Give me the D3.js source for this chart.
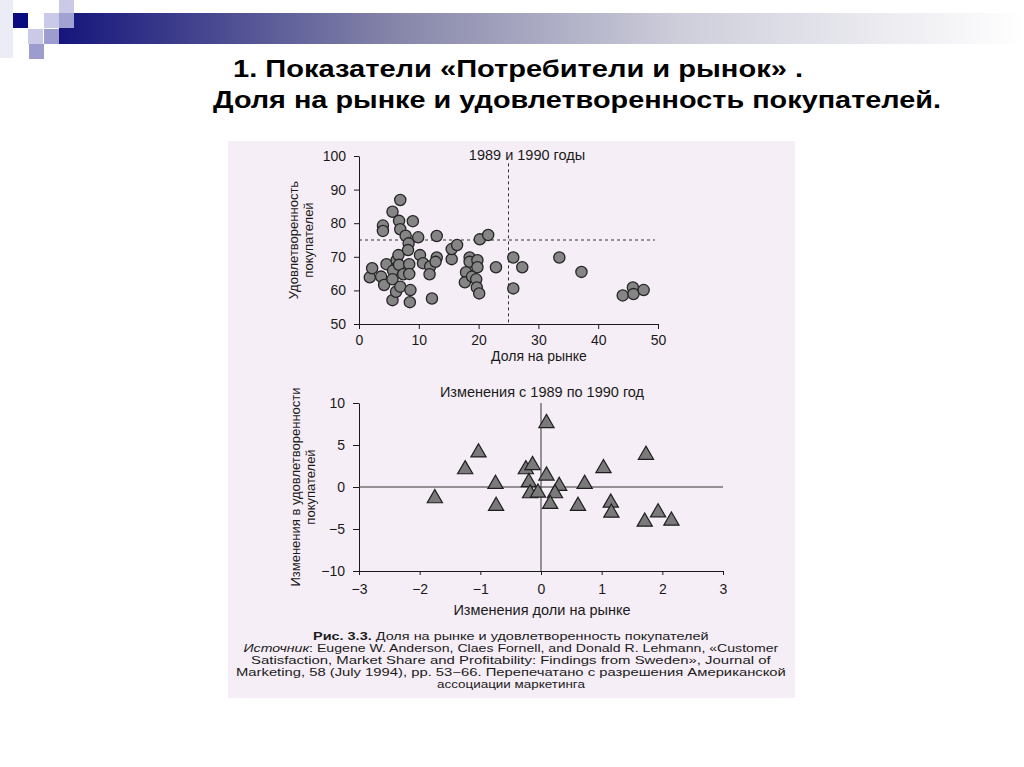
<!DOCTYPE html>
<html>
<head>
<meta charset="utf-8">
<script src="https://cdn.jsdelivr.net/npm/d3@7"></script>
<style>
  body { margin: 0; background: #fff; }
  svg { display: block; }
  .tick text { font-family: "Liberation Sans", Arial, sans-serif; font-size: 14px; fill: #1a1a1a; }
  .domain, .tick line { stroke: #1a1a1a; }
</style>
</head>
<body>
<div class="svg-container"></div>
<script>
// top panel: market share (%) vs customer satisfaction, 1989 and 1990
const shareLevel = [1.8, 2.2, 3.7, 4.2, 4.0, 4.0, 4.6, 5.6, 5.7, 5.6, 5.6, 6.2, 6.3, 6.6, 6.9, 6.7,
  6.9, 6.7, 6.9, 7.4, 7.8, 8.3, 8.2, 8.4, 8.4, 8.6, 8.5, 9.0, 9.9, 10.2, 10.7, 11.9, 11.8, 12.2,
  13.0, 13.0, 12.8, 15.5, 15.5, 16.4, 17.9, 17.7, 18.5, 18.5, 18.9, 19.6, 19.8, 19.8, 19.7, 20.1,
  20.2, 21.6, 22.9, 25.8, 27.3, 25.8, 33.5, 37.2, 44.1, 45.8, 45.9, 47.6];
const satisfactionLevel = [63.9, 66.6, 64.1, 61.6, 79.3, 77.7, 67.8, 83.4, 65.9, 63.3, 57.1, 59.6,
  69.0, 70.5, 86.9, 80.7, 78.2, 67.6, 61.1, 64.8, 76.3, 74.0, 72.0, 67.8, 64.9, 60.1, 56.5, 80.6,
  75.8, 70.5, 68.1, 67.1, 64.8, 57.6, 76.2, 69.8, 68.5, 69.3, 72.3, 73.5, 65.4, 62.4, 69.8, 68.5,
  64.1, 63.3, 69.0, 66.9, 60.9, 59.1, 75.2, 76.5, 66.9, 69.8, 66.9, 60.6, 69.8, 65.5, 58.5, 60.9,
  58.9, 60.1];

// bottom panel: change from 1989 to 1990
const shareChange = [-1.75, -1.25, -1.03, -0.75, -0.74, -0.25, -0.14, -0.2, -0.18, -0.05, 0.09,
  0.09, 0.30, 0.23, 0.15, 0.61, 0.72, 1.03, 1.15, 1.16, 1.73, 1.71, 1.93, 2.15];
const satisfactionChange = [-1.35, 2.1, 4.1, 0.36, -2.27, 2.1, 2.6, 0.56, -0.76, -0.68, 7.6, 1.35,
  0.12, -0.76, -2.03, -2.27, 0.36, 2.23, -1.87, -3.07, 3.82, -4.14, -3.03, -4.02];

const topXTicks = [0, 10, 20, 30, 40, 50];
const topYTicks = [50, 60, 70, 80, 90, 100];
const botXTicks = [-3, -2, -1, 0, 1, 2, 3];
const botYTicks = [-10, -5, 0, 5, 10];

const captionLines = [
  [["Рис. 3.3.", "bold"], [" Доля на рынке и удовлетворенность покупателей", ""]],
  [["Источник", "italic"], [": Eugene W. Anderson, Claes Fornell, and Donald R. Lehmann, «Customer", ""]],
  [["Satisfaction, Market Share and Profitability: Findings from Sweden», Journal of", ""]],
  [["Marketing, 58 (July 1994), pp. 53−66. Перепечатано с разрешения Американской", ""]],
  [["ассоциации маркетинга", ""]]
];
const captionWidths = [396, 535, 520, 550, 148];

const svg = d3.select("div.svg-container")
  .append("svg")
  .attr("width", 1024)
  .attr("height", 767)
  .style("background-color", "#fff");

// slide decoration: gradient bar and squares
const grad = svg.append("defs").append("linearGradient")
  .attr("id", "bar").attr("x1", "0%").attr("x2", "100%");
grad.append("stop").attr("offset", "0%").attr("stop-color", "#15157c");
grad.append("stop").attr("offset", "35%").attr("stop-color", "#8686aa");
grad.append("stop").attr("offset", "65%").attr("stop-color", "#cfcfdc");
grad.append("stop").attr("offset", "100%").attr("stop-color", "#ffffff");

svg.append("rect").attr("x", 0).attr("y", 0).attr("width", 13).attr("height", 58).attr("fill", "#ececf6");
svg.append("rect").attr("x", 59).attr("y", 13).attr("width", 965).attr("height", 31).attr("fill", "url(#bar)");
const squares = [
  [13, 13, "#0b0b80"], [28, 29, "#cacae6"], [29, 44, "#9c9cce"],
  [44, 13, "#cacae8"], [44, 29, "#9c9cce"], [59, 0, "#cacae6"], [59, 13, "#a2a2d2"]
];
svg.append("g").selectAll("rect").data(squares).join("rect")
  .attr("x", d => d[0]).attr("y", d => d[1])
  .attr("width", 15).attr("height", 15)
  .attr("fill", d => d[2]);

// slide title (the scan is stretched sideways, so the lines are fitted to their width)
const title = svg.append("g")
  .attr("font-family", "'Liberation Sans', Arial, sans-serif")
  .attr("font-weight", "bold")
  .attr("font-size", 24)
  .attr("fill", "#000");
title.append("text").attr("x", 233).attr("y", 77)
  .attr("textLength", 570).attr("lengthAdjust", "spacingAndGlyphs")
  .text("1. Показатели «Потребители и рынок» .");
title.append("text").attr("x", 213).attr("y", 108)
  .attr("textLength", 728).attr("lengthAdjust", "spacingAndGlyphs")
  .text("Доля на рынке и удовлетворенность покупателей.");

// scanned figure background
svg.append("rect")
  .attr("x", 228).attr("y", 141).attr("width", 567).attr("height", 557)
  .attr("fill", "#f6eef6");

const font = "'Liberation Sans', Arial, sans-serif";

// ---------- top panel ----------
const x1 = d3.scaleLinear().domain([0, 50]).range([359, 658]);
const y1 = d3.scaleLinear().domain([50, 100]).range([324, 156]);

const upper = svg.append("g");
upper.append("g")
  .attr("transform", `translate(0,${y1(50)})`)
  .call(d3.axisBottom(x1).tickValues(topXTicks).tickSize(5).tickSizeOuter(0).tickPadding(6));
upper.append("g")
  .attr("transform", `translate(${x1(0)},0)`)
  .call(d3.axisLeft(y1).tickValues(topYTicks).tickSize(5).tickSizeOuter(0).tickPadding(8));

upper.append("line")
  .attr("x1", x1(25)).attr("x2", x1(25)).attr("y1", y1(97.8)).attr("y2", y1(50))
  .attr("stroke", "#333").attr("stroke-dasharray", "3,3");
upper.append("line")
  .attr("x1", x1(0)).attr("x2", x1(49.5)).attr("y1", y1(75)).attr("y2", y1(75))
  .attr("stroke", "#333").attr("stroke-dasharray", "3,3");

upper.append("g").selectAll("circle")
  .data(shareLevel.map((s, i) => ({ s, v: satisfactionLevel[i] })))
  .join("circle")
  .attr("cx", d => x1(d.s))
  .attr("cy", d => y1(d.v))
  .attr("r", 5.6)
  .attr("fill", "#858585")
  .attr("stroke", "#262626")
  .attr("stroke-width", 1.3);

upper.append("text")
  .attr("x", 527).attr("y", 160)
  .attr("text-anchor", "middle")
  .attr("font-family", font).attr("font-size", 14.5).attr("fill", "#1a1a1a")
  .text("1989 и 1990 годы");
upper.append("text")
  .attr("x", 539).attr("y", 360.5)
  .attr("text-anchor", "middle")
  .attr("font-family", font).attr("font-size", 14).attr("fill", "#1a1a1a")
  .text("Доля на рынке");
const yl1 = upper.append("text")
  .attr("transform", "translate(298,240) rotate(-90)")
  .attr("text-anchor", "middle")
  .attr("font-family", font).attr("font-size", 13).attr("fill", "#1a1a1a");
yl1.append("tspan").attr("x", 0).attr("dy", 0).text("Удовлетворенность");
yl1.append("tspan").attr("x", 0).attr("dy", 15).text("покупателей");

// ---------- bottom panel ----------
const x2 = d3.scaleLinear().domain([-3, 3]).range([359, 723]);
const y2 = d3.scaleLinear().domain([-10, 10]).range([571, 403]);

const lower = svg.append("g");
lower.append("g")
  .attr("transform", `translate(0,${y2(-10)})`)
  .call(d3.axisBottom(x2).tickValues(botXTicks).tickSize(4).tickSizeOuter(0).tickPadding(9)
    .tickFormat(d => d < 0 ? "−" + Math.abs(d) : d));
lower.append("g")
  .attr("transform", `translate(${x2(-3)},0)`)
  .call(d3.axisLeft(y2).tickValues(botYTicks).tickSize(6).tickSizeOuter(0).tickPadding(8)
    .tickFormat(d => d < 0 ? "−" + Math.abs(d) : d));

lower.append("line")
  .attr("x1", x2(-3)).attr("x2", x2(3)).attr("y1", y2(0)).attr("y2", y2(0))
  .attr("stroke", "#333").attr("stroke-width", 1);
lower.append("line")
  .attr("x1", x2(0)).attr("x2", x2(0)).attr("y1", y2(10)).attr("y2", y2(-10))
  .attr("stroke", "#333").attr("stroke-width", 1);

const tri = d3.symbol().type(d3.symbolTriangle).size(100);
lower.append("g").selectAll("path")
  .data(shareChange.map((s, i) => ({ s, v: satisfactionChange[i] })))
  .join("path")
  .attr("transform", d => `translate(${x2(d.s)},${y2(d.v)})`)
  .attr("d", tri)
  .attr("fill", "#7a7a7a")
  .attr("stroke", "#1e1e1e")
  .attr("stroke-width", 1.2);

lower.append("text")
  .attr("x", 542).attr("y", 397)
  .attr("text-anchor", "middle")
  .attr("font-family", font).attr("font-size", 14.5).attr("fill", "#1a1a1a")
  .text("Изменения с 1989 по 1990 год");
lower.append("text")
  .attr("x", 542).attr("y", 615)
  .attr("text-anchor", "middle")
  .attr("font-family", font).attr("font-size", 14.5).attr("fill", "#1a1a1a")
  .text("Изменения доли на рынке");
const yl2 = lower.append("text")
  .attr("transform", "translate(300,487) rotate(-90)")
  .attr("text-anchor", "middle")
  .attr("font-family", font).attr("font-size", 13).attr("fill", "#1a1a1a");
yl2.append("tspan").attr("x", 0).attr("dy", 0).text("Изменения в удовлетворенности");
yl2.append("tspan").attr("x", 0).attr("dy", 15).text("покупателей");

// ---------- caption ----------
// each line is stretched sideways to the width it has in the scan
const cap = svg.append("g")
  .attr("font-family", "'Liberation Sans', Arial, sans-serif")
  .attr("font-size", 10.5)
  .attr("fill", "#1a1a1a");
cap.selectAll("text")
  .data(captionLines)
  .join("text")
  .attr("text-anchor", "start")
  .each(function (parts, i) {
    const t = d3.select(this);
    parts.forEach(p => {
      t.append("tspan")
        .attr("font-weight", p[1] === "bold" ? "bold" : null)
        .attr("font-style", p[1] === "italic" ? "italic" : null)
        .text(p[0]);
    });
    const w = this.getComputedTextLength();
    const sx = captionWidths[i] / w;
    const left = 511 - captionWidths[i] / 2;
    t.attr("transform", `translate(${left},${640 + i * 12}) scale(${sx},1)`);
  });
</script>
</body>
</html>
